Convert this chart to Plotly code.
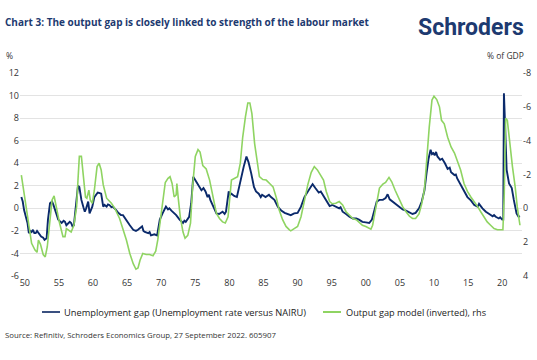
import plotly.graph_objects as go

# ---- Data ----
unemp_years = [1949.5, 1949.7, 1949.9, 1950.2, 1950.4, 1950.6, 1950.8, 1951.0, 1951.2, 1951.4, 1951.6, 1951.8,
               1951.95, 1952.2, 1952.4, 1952.7, 1952.9, 1953.2, 1953.4, 1953.7, 1954.0, 1954.2, 1954.4, 1954.7,
               1954.9, 1955.2, 1955.4, 1955.7, 1955.9, 1956.1, 1956.3, 1956.6, 1956.8, 1957.0, 1957.2, 1957.5,
               1957.8, 1958.0, 1958.3, 1958.6, 1958.8, 1959.0, 1959.3, 1959.5, 1959.7, 1959.9, 1960.2, 1960.5,
               1960.7, 1961.0, 1961.2, 1961.5, 1961.7, 1962.0, 1962.2, 1962.4, 1962.7, 1962.9, 1963.2, 1963.4,
               1963.7, 1964.1, 1964.4, 1964.6, 1964.9, 1965.4, 1965.9, 1966.3, 1966.6, 1966.8, 1967.2, 1967.4,
               1967.6, 1968.1, 1968.3, 1968.5, 1969.0, 1969.4, 1969.6, 1969.8, 1970.2, 1970.5, 1970.7, 1971.0,
               1971.2, 1971.5, 1971.7, 1972.2, 1972.7, 1973.2, 1973.4, 1973.6, 1974.1, 1974.4, 1974.7, 1975.1,
               1975.5, 1975.9, 1976.2, 1976.5, 1976.8, 1977.0, 1977.2, 1977.6, 1978.1, 1978.5, 1979.0, 1979.3,
               1979.5, 1979.9, 1980.1, 1980.3, 1980.7, 1981.1, 1981.4, 1981.7, 1982.1, 1982.5, 1982.8, 1983.2,
               1983.6, 1983.9, 1984.3, 1984.6, 1984.8, 1985.3, 1985.8, 1986.1, 1986.6, 1987.1, 1987.6, 1988.1,
               1988.6, 1989.0, 1989.5, 1990.0, 1990.5, 1991.0, 1991.5, 1991.8, 1992.2, 1992.6, 1993.1, 1993.4,
               1993.7, 1994.2, 1994.7, 1995.1, 1995.6, 1996.1, 1996.3, 1996.6, 1997.1, 1997.6, 1998.1, 1998.6,
               1999.0, 1999.5, 2000.0, 2000.5, 2000.9, 2001.2, 2001.6, 2002.0, 2002.5, 2002.9, 2003.2, 2003.5,
               2003.9, 2004.4, 2004.9, 2005.4, 2005.9, 2006.4, 2006.85, 2007.3, 2007.8, 2008.2, 2008.6, 2008.9,
               2009.2, 2009.5, 2009.7, 2009.9, 2010.1, 2010.3, 2010.5, 2010.9, 2011.2, 2011.6, 2012.0, 2012.3,
               2012.5, 2013.0, 2013.2, 2013.4, 2013.9, 2014.4, 2014.9, 2015.4, 2015.9, 2016.4, 2016.6, 2017.1,
               2017.6, 2018.1, 2018.6, 2018.8, 2019.05, 2019.5, 2019.7, 2020.0, 2020.15, 2020.25, 2020.4, 2020.55,
               2020.65, 2021.0, 2021.4, 2021.7, 2022.1, 2022.4, 2022.6]
unemp_gap = [1.0, 0.6, -0.15, -1.0, -1.3, -2.2, -2.0, -2.1, -1.9, -2.2, -2.2, -2.0,
             -2.1, -2.3, -2.5, -2.6, -2.8, -2.65, -1.0, 0.45, 0.6, 0.3, -0.15, -0.6,
             -1.0, -1.2, -1.3, -1.1, -1.2, -1.5, -1.4, -1.2, -1.3, -1.6, -1.5, 0.15,
             2.0, 1.9, 0.75, 0.1, -0.3, 0.0, 0.6, -0.45, -0.2, 0.15, 1.0, 1.3,
             1.4, 1.35, 1.3, 0.15, 0.3, 0.15, 0.35, 0.3, 0.1, 0.15, 0.0, -0.15,
             -0.4, -0.6, -0.6, -0.8, -1.0, -1.5, -1.9, -2.0, -1.9, -1.8, -1.6, -2.0,
             -2.1, -2.2, -2.1, -2.4, -2.3, -2.4, -1.8, -1.0, -0.45, 0.0, 0.15, -0.1,
             0.0, -0.2, -0.3, -0.6, -1.0, -1.3, -1.1, -1.2, -0.75, 0.45, 2.8, 2.4,
             2.1, 1.6, 1.8, 1.5, 1.0, 1.2, 0.75, 0.15, -0.45, -0.5, -0.3, -0.5,
             -0.3, 1.5, 1.2, 1.3, 1.1, 1.0, 1.9, 2.8, 3.7, 4.6, 4.1, 3.1,
             1.9, 1.5, 1.3, 1.0, 1.2, 1.0, 1.2, 1.0, 0.75, 0.15, -0.2, -0.4,
             -0.5, -0.6, -0.45, -0.4, 0.15, 1.0, 1.5, 1.8, 2.15, 1.8, 1.4, 1.5,
             1.2, 0.75, 0.2, 0.3, 0.15, 0.0, 0.1, -0.3, -0.5, -0.75, -0.9, -0.9,
             -1.0, -1.2, -1.25, -1.3, -1.0, -0.3, 0.6, 0.75, 0.75, 0.9, 1.25, 0.8,
             0.6, 0.4, 0.15, -0.1, -0.2, -0.4, -0.5, -0.4, 0.0, 0.6, 1.6, 3.1,
             4.4, 5.2, 4.8, 4.9, 4.7, 5.0, 4.6, 4.3, 4.4, 4.0, 3.5, 3.6,
             3.2, 2.95, 3.0, 2.65, 2.1, 1.5, 1.0, 0.7, 0.3, 0.15, 0.4, 0.0,
             -0.3, -0.5, -0.7, -0.6, -0.75, -0.9, -0.8, -1.0, -1.0, 10.2, 7.2, 4.5,
             3.4, 2.2, 1.8, 0.75, -0.45, -0.75, -0.7]

output_years = [1949.5, 1949.9, 1950.2, 1950.6, 1951.0, 1951.5, 1951.8, 1952.0, 1952.3, 1952.7, 1953.0, 1953.3,
                1953.7, 1954.0, 1954.3, 1954.6, 1955.1, 1955.6, 1955.9, 1956.1, 1956.4, 1956.8, 1957.2, 1957.6,
                1957.8, 1958.0, 1958.3, 1958.5, 1958.9, 1959.1, 1959.4, 1959.6, 1959.9, 1960.2, 1960.6, 1960.9,
                1961.2, 1961.5, 1962.0, 1962.7, 1963.2, 1963.9, 1964.4, 1964.9, 1965.4, 1965.9, 1966.3, 1966.6,
                1966.9, 1967.3, 1967.8, 1968.3, 1968.8, 1969.2, 1969.5, 1969.9, 1970.3, 1970.6, 1971.0, 1971.3,
                1971.6, 1971.9, 1972.2, 1972.3, 1972.5, 1972.8, 1973.2, 1973.5, 1973.9, 1974.3, 1974.6, 1975.0,
                1975.4, 1975.7, 1976.1, 1976.6, 1977.1, 1977.6, 1978.1, 1978.55, 1979.0, 1979.4, 1979.8, 1980.3,
                1980.7, 1981.2, 1981.6, 1981.95, 1982.35, 1982.7, 1983.0, 1983.3, 1983.7, 1984.1, 1984.4, 1984.9,
                1985.4, 1985.9, 1986.4, 1986.9, 1987.3, 1987.8, 1988.3, 1988.8, 1989.0, 1989.5, 1990.0, 1990.5,
                1991.0, 1991.5, 1992.0, 1992.45, 1992.9, 1993.3, 1993.8, 1994.2, 1994.7, 1995.1, 1995.6, 1996.1,
                1996.6, 1997.1, 1997.6, 1998.1, 1998.6, 1999.0, 1999.5, 2000.0, 2000.5, 2000.75, 2001.0, 2001.5,
                2002.0, 2002.5, 2002.9, 2003.4, 2003.8, 2004.3, 2004.9, 2005.4, 2005.9, 2006.4, 2006.85, 2007.3,
                2007.8, 2008.2, 2008.6, 2008.9, 2009.3, 2009.7, 2010.0, 2010.4, 2010.8, 2011.1, 2011.5, 2012.0,
                2012.5, 2013.0, 2013.4, 2013.9, 2014.4, 2014.9, 2015.4, 2015.9, 2016.4, 2016.85, 2017.3, 2017.8,
                2018.3, 2018.8, 2019.3, 2019.8, 2020.1, 2020.3, 2020.5, 2020.75, 2021.1, 2021.5, 2021.9, 2022.2,
                2022.6]
output_gap = [-1.97, -0.87, 0.10, 1.27, 2.07, 2.47, 2.60, 1.87, 2.13, 2.73, 2.87, 2.27,
              0.67, -0.50, -0.73, -0.10, 0.87, 1.67, 1.67, 1.20, 1.27, 1.40, 1.00, -0.10,
              -1.67, -3.07, -3.07, -2.27, -0.67, -0.60, -1.07, -0.50, -0.30, -1.07, -2.47, -2.67,
              -2.27, -1.40, -0.60, -0.30, 0.00, 0.60, 1.20, 1.87, 2.67, 3.27, 3.60, 3.53,
              3.07, 2.67, 2.73, 2.73, 2.80, 2.53, 1.87, 0.67, -0.67, -1.53, -1.77, -1.87,
              -1.47, -0.67, -0.80, -1.47, -0.60, 0.50, 1.40, 1.77, 1.60, 0.87, -1.27, -3.07,
              -3.47, -3.33, -2.53, -2.33, -1.67, -0.67, 0.30, 0.60, 0.80, 0.87, 0.50, -1.67,
              -1.77, -1.87, -2.67, -4.20, -5.40, -6.23, -6.23, -5.60, -3.83, -2.53, -1.87, -1.70,
              -1.67, -1.47, -1.27, -0.60, 0.10, 0.67, 1.07, 1.27, 1.33, 1.20, 1.07, 0.50,
              -0.50, -1.40, -2.13, -2.47, -2.27, -2.00, -1.67, -1.00, -0.40, -0.27, -0.30, -0.40,
              -0.20, 0.20, 0.40, 0.60, 0.67, 0.80, 1.00, 1.07, 1.20, 1.23, 1.00, -0.10,
              -1.20, -1.43, -1.53, -1.83, -1.57, -1.07, -0.50, -0.10, 0.20, 0.47, 0.60, 0.60,
              0.33, -0.27, -1.13, -2.87, -4.80, -6.40, -6.63, -6.43, -6.00, -5.20, -5.00, -4.20,
              -3.63, -3.27, -2.87, -2.27, -1.47, -1.00, -0.67, -0.40, -0.10, 0.20, 0.50, 0.80,
              1.00, 1.20, 1.27, 1.27, 1.27, -0.87, -5.33, -5.20, -3.83, -2.47, -1.27, -0.10,
              1.00]

x_tick_vals = [1950, 1955, 1960, 1965, 1970, 1975, 1980, 1985, 1990, 1995, 2000, 2005, 2010, 2015, 2020]
x_tick_text = ["50", "55", "60", "65", "70", "75", "80", "85", "90", "95", "00", "05", "10", "15", "20"]
left_ticks = [-6, -4, -2, 0, 2, 4, 6, 8, 10, 12]
left_tick_text = ["-6", "-4", "-2", "0", "2", "4", "6", "8", "10", "12"]
right_ticks = [-8, -6, -4, -2, 0, 2, 4]
right_tick_text = ["-8", "-6", "-4", "-2", "0", "2", "4"]
series_names = ["Unemployment gap (Unemployment rate versus NAIRU)", "Output gap model (inverted), rhs"]

NAVY = "#0b2a6b"
GREEN = "#8fd462"
TITLE_BLUE = "#1d3a70"
FONT = "Open Sans"

# plot area in pixels
L, R, T, B = 20, 522, 73, 276
W, H = 537, 360
PW, PH = R - L, B - T


def px(x):
    return (x - L) / PW


def py(y):
    return (B - y) / PH


fig = go.Figure()
fig.add_trace(go.Scatter(x=unemp_years, y=unemp_gap, mode="lines", name=series_names[0],
                         line=dict(color=NAVY, width=1.9)))
fig.add_trace(go.Scatter(x=output_years, y=output_gap, mode="lines", name=series_names[1], yaxis="y2",
                         line=dict(color=GREEN, width=1.6)))

legend_y = 312
shapes = [
    dict(type="line", xref="paper", yref="paper", x0=px(42), x1=px(60), y0=py(legend_y), y1=py(legend_y),
         line=dict(color="#3a5080", width=2)),
    dict(type="line", xref="paper", yref="paper", x0=px(323), x1=px(341), y0=py(legend_y), y1=py(legend_y),
         line=dict(color=GREEN, width=2)),
]

fig.update_layout(
    width=W, height=H,
    margin=dict(l=L, r=W - R, t=T, b=H - B, autoexpand=False),
    paper_bgcolor="white", plot_bgcolor="white",
    font=dict(family=FONT, size=9, color="#333333"),
    showlegend=False,
    xaxis=dict(range=[1949.3, 2022.9], tickvals=x_tick_vals, ticktext=x_tick_text,
               showgrid=False, zeroline=False, showline=False, ticks="", automargin=False,
               tickfont=dict(size=9, color="#333333")),
    yaxis=dict(range=[-6, 12], tickvals=left_ticks, ticktext=left_tick_text, showgrid=True,
               gridcolor="#e3e3e3", gridwidth=1, zeroline=False, showline=False, ticks="",
               automargin=False, tickfont=dict(size=9, color="#333333")),
    yaxis2=dict(range=[4, -8], overlaying="y", side="right", tickvals=right_ticks, ticktext=right_tick_text,
                showgrid=False, zeroline=False, showline=False, ticks="", automargin=False,
                tickfont=dict(size=9, color="#333333")),
    shapes=shapes,
    annotations=[
        dict(text="<b>Chart 3: The output gap is closely linked to strength of the labour market</b>",
             xref="paper", yref="paper", x=px(3), y=py(22), xanchor="left", yanchor="middle",
             showarrow=False, font=dict(size=10, color=TITLE_BLUE, family=FONT)),
        dict(text="<b>Schroders</b>", xref="paper", yref="paper", x=px(526), y=py(27),
             xanchor="right", yanchor="middle", showarrow=False,
             font=dict(size=23, color=TITLE_BLUE, family="Roboto")),
        dict(text="%", xref="paper", yref="paper", x=px(4), y=py(55),
             xanchor="left", yanchor="middle", showarrow=False, font=dict(size=8.5, color="#333333")),
        dict(text="% of GDP", xref="paper", yref="paper", x=px(526), y=py(55),
             xanchor="right", yanchor="middle", showarrow=False, font=dict(size=8.5, color="#333333")),
        dict(text=series_names[0], xref="paper", yref="paper", x=px(62), y=py(legend_y),
             xanchor="left", yanchor="middle", showarrow=False, font=dict(size=9.3, color="#222222")),
        dict(text=series_names[1], xref="paper", yref="paper", x=px(344), y=py(legend_y),
             xanchor="left", yanchor="middle", showarrow=False, font=dict(size=9.2, color="#222222")),
        dict(text="Source: Refinitiv, Schroders Economics Group, 27 September 2022. 605907",
             xref="paper", yref="paper", x=px(3), y=py(335),
             xanchor="left", yanchor="middle", showarrow=False, font=dict(size=7.8, color="#333333")),
    ],
)

fig.write_html(
    "out.html",
    config={"displayModeBar": False},
    post_script="document.body.style.margin='0';document.body.style.padding='0';"
                "document.documentElement.style.overflow='hidden';",
)
